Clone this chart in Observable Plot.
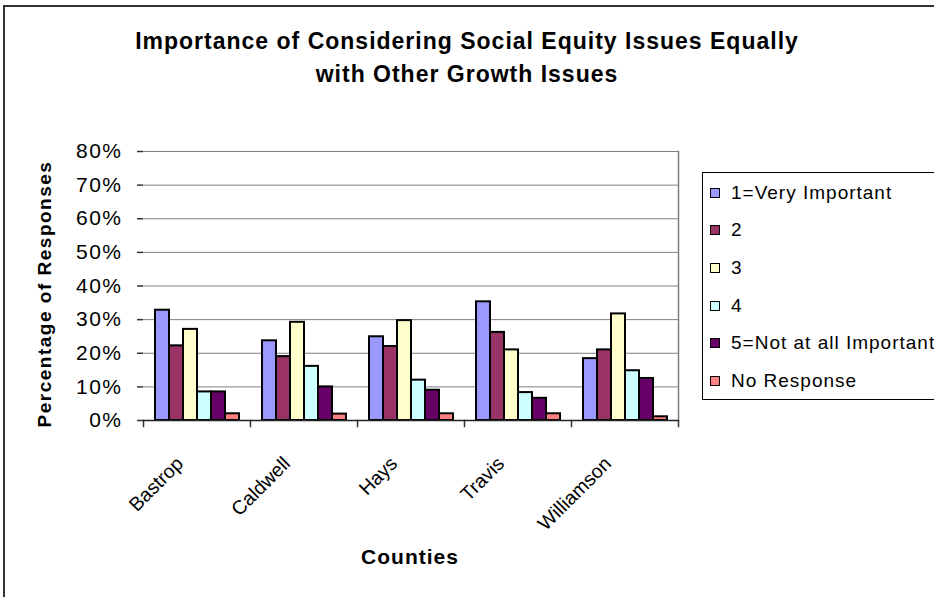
<!DOCTYPE html>
<html>
<head>
<meta charset="utf-8">
<script src="https://cdn.jsdelivr.net/npm/d3@7"></script>
<script src="https://cdn.jsdelivr.net/npm/@observablehq/plot@0.6"></script>
<style>
  body { margin: 0; background: #fff; }
  #chart {
    position: relative; width: 934px; height: 597px; overflow: hidden;
    font-family: "Liberation Sans", Arial, Helvetica, sans-serif; color: #000;
  }
  #chart svg { position: absolute; left: 0; top: 0; }
  #border {
    position: absolute; left: 3px; top: 5px; width: 960px; height: 620px;
    border-left: 2px solid #333; border-top: 2px solid #333;
  }
  #title {
    position: absolute; left: 0; top: 25px; width: 934px; text-align: center;
    font-size: 23px; font-weight: bold; line-height: 33px; letter-spacing: 1px;
  }
  #ytitle {
    position: absolute; left: 45px; top: 294px; white-space: nowrap;
    transform: translate(-50%, -50%) rotate(-90deg);
    font-size: 19px; font-weight: bold; letter-spacing: 1.5px;
  }
  #xtitle {
    position: absolute; left: 410px; top: 557px; white-space: nowrap;
    transform: translate(-50%, -50%);
    font-size: 21px; font-weight: bold; letter-spacing: 1px;
  }
  #legend {
    position: absolute; left: 702px; top: 172px; width: 250px; height: 228px;
    border: 1px solid #000; box-sizing: border-box; padding-top: 1px;
  }
  .row { display: flex; align-items: center; height: 37.6px; font-size: 19px; letter-spacing: 1px; white-space: nowrap; }
  .sw { width: 8px; height: 8px; border: 1.5px solid #000; margin-left: 7px; margin-right: 11px; flex: none; }
  g[aria-label="y-axis tick label"] text { letter-spacing: 1.5px; }
</style>
</head>
<body>
<div id="chart">
  <div id="border"></div>
  <div id="title">Importance of Considering Social Equity Issues Equally<br>with Other Growth Issues</div>
  <div id="ytitle">Percentage of Responses</div>
  <div id="xtitle">Counties</div>
  <div id="legend"></div>
</div>
<script>
// Survey results by county: share of responses (%) for each rating
const counties = ["Bastrop", "Caldwell", "Hays", "Travis", "Williamson"];
const responses = ["1=Very Important", "2", "3", "4", "5=Not at all Important", "No Response"];
const veryImportant = [32.8, 23.7, 24.9, 35.3, 18.4];
const rating2 = [22.2, 19.0, 22.0, 26.2, 21.0];
const rating3 = [27.1, 29.2, 29.7, 21.0, 31.7];
const rating4 = [8.5, 16.1, 12.0, 8.3, 14.8];
const notImportant = [8.5, 10.0, 9.0, 6.6, 12.5];
const noResponse = [2.0, 1.9, 2.0, 2.0, 1.1];
const yTicks = [0, 10, 20, 30, 40, 50, 60, 70, 80];
const palette = ["#9999FF", "#993366", "#FFFFCC", "#CCFFFF", "#660066", "#FF8080"];

const series = [veryImportant, rating2, rating3, rating4, notImportant, noResponse];
const rows = counties.flatMap((county, i) =>
  responses.map((response, j) => ({ county, response, value: series[j][i] }))
);

const W = 934, H = 597;
const mL = 142, mR = 255, mT = 151, mB = 177;
const innerH = H - mT - mB;

const chart = Plot.plot({
  width: W, height: H,
  marginLeft: mL, marginRight: mR, marginTop: mT, marginBottom: mB,
  style: { fontFamily: '"Liberation Sans", Arial, sans-serif', color: "#000", background: "transparent", overflow: "visible" },
  fx: { domain: counties, padding: 0, label: null },
  x: { domain: responses, paddingInner: 0, paddingOuter: 0.75, axis: null },
  y: { domain: [0, 80], axis: null },
  color: { domain: responses, range: palette },
  marks: [
    // horizontal gridlines
    Plot.ruleY(yTicks.slice(1), { stroke: "#7f7f7f", strokeWidth: 1, strokeOpacity: 1 }),
    // right border of the plot area
    Plot.frame({ anchor: "right", facetAnchor: "right", stroke: "#7f7f7f", strokeWidth: 1.5 }),
    // category separator ticks below the baseline
    Plot.frame({ anchor: "left", insetTop: innerH, insetBottom: -6, stroke: "#333", strokeWidth: 1.5 }),
    Plot.frame({ anchor: "right", facetAnchor: "right", insetTop: innerH, insetBottom: -6, stroke: "#333", strokeWidth: 1.5 }),
    // bars
    Plot.barY(rows, {
      fx: "county", x: "response", y: "value", fill: "response",
      stroke: "#000", strokeWidth: 2
    }),
    // baseline
    Plot.ruleY([0], { stroke: "#222", strokeWidth: 1.5 }),
    // value axis
    Plot.axisY({
      ticks: yTicks, tickFormat: d => `${d}%`, tickSize: 6, tickPadding: 15,
      fontSize: 21, line: true, stroke: "#333", strokeWidth: 1.5, label: null
    }),
    // county labels
    Plot.axisFx({
      anchor: "bottom", tickSize: 0, tickPadding: 40, tickRotate: -45,
      fontSize: 19.5, dx: -17, label: null
    })
  ]
});

document.getElementById("chart").appendChild(chart);

// legend
const legend = document.getElementById("legend");
responses.forEach((r, j) => {
  const row = document.createElement("div");
  row.className = "row";
  const sw = document.createElement("span");
  sw.className = "sw";
  sw.style.background = palette[j];
  const label = document.createElement("span");
  label.textContent = r;
  row.appendChild(sw);
  row.appendChild(label);
  legend.appendChild(row);
});
</script>
</body>
</html>
